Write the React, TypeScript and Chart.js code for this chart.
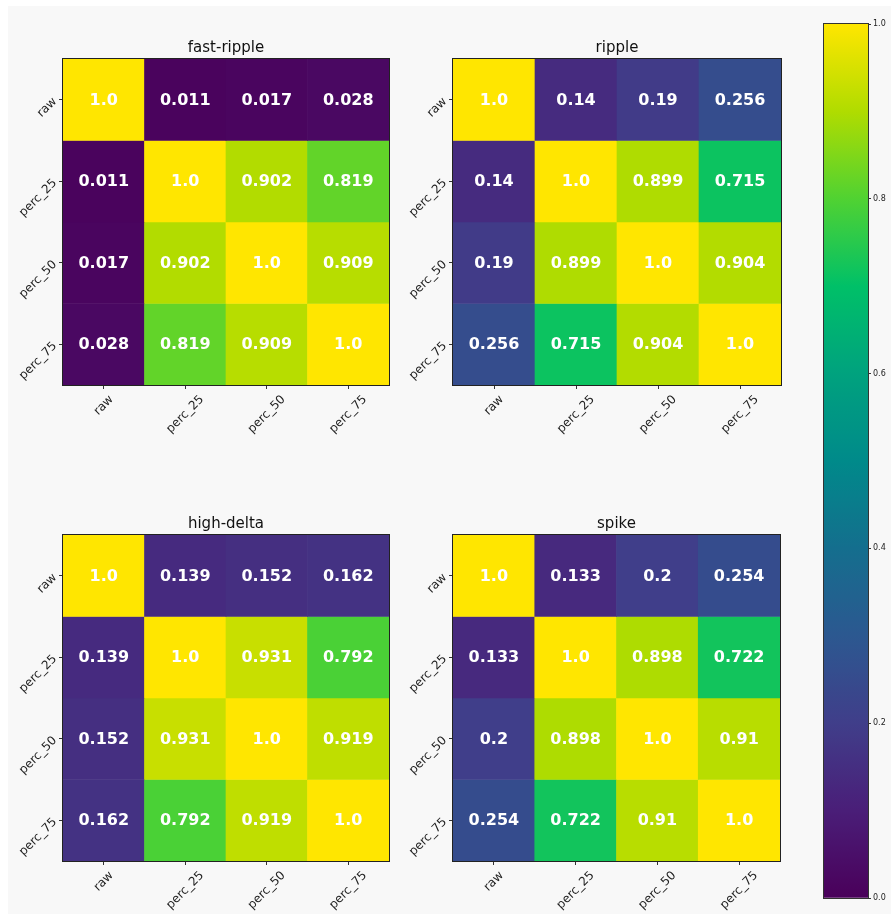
import React, { useEffect, useRef } from "react";
import { Chart, registerables } from "chart.js";

Chart.register(...registerables);

// Feature labels shared by both axes of every correlation matrix
const featureLabels = ["raw", "perc_25", "perc_50", "perc_75"];

// Correlation matrices, one per event type (rows top to bottom)
const fastRipple = [
  [1.0, 0.011, 0.017, 0.028],
  [0.011, 1.0, 0.902, 0.819],
  [0.017, 0.902, 1.0, 0.909],
  [0.028, 0.819, 0.909, 1.0],
];
const ripple = [
  [1.0, 0.14, 0.19, 0.256],
  [0.14, 1.0, 0.899, 0.715],
  [0.19, 0.899, 1.0, 0.904],
  [0.256, 0.715, 0.904, 1.0],
];
const highDelta = [
  [1.0, 0.139, 0.152, 0.162],
  [0.139, 1.0, 0.931, 0.792],
  [0.152, 0.931, 1.0, 0.919],
  [0.162, 0.792, 0.919, 1.0],
];
const spike = [
  [1.0, 0.133, 0.2, 0.254],
  [0.133, 1.0, 0.898, 0.722],
  [0.2, 0.898, 1.0, 0.91],
  [0.254, 0.722, 0.91, 1.0],
];

const colorbarTicks = [0, 0.2, 0.4, 0.6, 0.8, 1.0];

const FONT = "'DejaVu Sans', sans-serif";

// viridis-like colour ramp
const CMAP: [number, number[]][] = [
  [0.0, [74, 0, 90]],
  [0.1, [74, 30, 120]],
  [0.2, [64, 62, 138]],
  [0.3, [44, 88, 144]],
  [0.4, [20, 110, 142]],
  [0.5, [0, 138, 138]],
  [0.6, [0, 162, 126]],
  [0.7, [0, 192, 104]],
  [0.8, [80, 210, 50]],
  [0.9, [176, 220, 0]],
  [1.0, [255, 230, 0]],
];

function cmap(v: number): string {
  const t = Math.max(0, Math.min(1, v));
  for (let i = 0; i < CMAP.length - 1; i++) {
    const [a, ca] = CMAP[i];
    const [b, cb] = CMAP[i + 1];
    if (t >= a && t <= b) {
      const f = (t - a) / (b - a);
      const c = ca.map((x, k) => Math.round(x + (cb[k] - x) * f));
      return `rgb(${c[0]},${c[1]},${c[2]})`;
    }
  }
  const c = CMAP[CMAP.length - 1][1];
  return `rgb(${c[0]},${c[1]},${c[2]})`;
}

function fmt(v: number): string {
  return Number.isInteger(v) ? v.toFixed(1) : String(v);
}

// Plot-area boxes [left, top, right, bottom] in page pixels
const PAD_L = 63;
const PAD_T = 59;
const PAD_R = 60;
const PAD_B = 90;

type Box = [number, number, number, number];

function Heatmap({ title, matrix, box }: { title: string; matrix: number[][]; box: Box }) {
  const ref = useRef<HTMLCanvasElement | null>(null);
  const [L, T, R, B] = box;
  const width = R - L + PAD_L + PAD_R;
  const height = B - T + PAD_T + PAD_B;

  useEffect(() => {
    if (!ref.current) return;
    const decor = {
      id: "heatDecor",
      afterDatasetsDraw(chart: any) {
        const { ctx, chartArea: a } = chart;
        ctx.save();
        // cell values
        ctx.font = `bold 16px ${FONT}`;
        ctx.fillStyle = "#ffffff";
        ctx.textAlign = "center";
        ctx.textBaseline = "middle";
        chart.data.datasets.forEach((ds: any, i: number) => {
          const meta = chart.getDatasetMeta(i);
          meta.data.forEach((el: any, j: number) => {
            const p = el.getProps(["x", "y", "base"], true);
            ctx.fillText(fmt(matrix[i][j]), p.x, (p.y + p.base) / 2 + 1);
          });
        });
        // frame
        ctx.strokeStyle = "#222";
        ctx.lineWidth = 1;
        ctx.strokeRect(a.left - 0.5, a.top - 0.5, a.right - a.left + 1, a.bottom - a.top + 1);
        ctx.restore();
      },
      afterDraw(chart: any) {
        const { ctx, chartArea: a } = chart;
        const xs = chart.scales.x;
        const ys = chart.scales.y;
        ctx.save();
        ctx.fillStyle = "#222";
        ctx.font = `12px ${FONT}`;
        // x tick labels: rotated 45°, centred under each tick
        xs.ticks.forEach((_t: any, k: number) => {
          const px = xs.getPixelForTick(k);
          const txt = featureLabels[k];
          const w = ctx.measureText(txt).width;
          const h = 13;
          const bb = (w + h) / Math.SQRT2;
          ctx.save();
          ctx.translate(px, a.bottom + 8 + bb / 2);
          ctx.rotate(-Math.PI / 4);
          ctx.textAlign = "center";
          ctx.textBaseline = "middle";
          ctx.fillText(txt, 0, 0);
          ctx.restore();
        });
        // y tick labels: rotated 45°, anchored at their right end
        ys.ticks.forEach((t: any) => {
          const py = ys.getPixelForValue(t.value);
          const txt = featureLabels[Math.floor(t.value)];
          ctx.save();
          ctx.translate(a.left - 8, py);
          ctx.rotate(-Math.PI / 4);
          ctx.textAlign = "right";
          ctx.textBaseline = "middle";
          ctx.fillText(txt, 0, 0);
          ctx.restore();
        });
        // title
        ctx.fillStyle = "#111";
        ctx.font = `15px ${FONT}`;
        ctx.textAlign = "center";
        ctx.textBaseline = "alphabetic";
        ctx.fillText(title, (a.left + a.right) / 2, a.top - 7);
        ctx.restore();
      },
    };

    const chart = new Chart(ref.current, {
      type: "bar",
      data: {
        labels: featureLabels,
        datasets: matrix.map((row, i) => ({
          label: featureLabels[i],
          data: featureLabels.map(() => [i, i + 1]) as any,
          backgroundColor: row.map((v) => cmap(v)),
          borderWidth: 0,
          barPercentage: 1,
          categoryPercentage: 1,
          grouped: false,
        })),
      },
      options: {
        animation: false,
        responsive: false,
        devicePixelRatio: 1,
        layout: { padding: { left: PAD_L - 50, top: PAD_T, right: PAD_R, bottom: 0 } },
        plugins: { legend: { display: false }, tooltip: { enabled: false }, title: { display: false } },
        scales: {
          x: {
            type: "category",
            offset: true,
            ticks: { display: false },
            grid: { offset: false, drawOnChartArea: false, drawTicks: true, tickLength: 4, color: "#333" },
            border: { display: false },
            afterFit: (s: any) => {
              s.height = PAD_B;
            },
          },
          y: {
            type: "linear",
            min: 0,
            max: featureLabels.length,
            reverse: true,
            afterBuildTicks: (s: any) => {
              s.ticks = featureLabels.map((_l, i) => ({ value: i + 0.5 }));
            },
            ticks: { display: false },
            grid: { drawOnChartArea: false, drawTicks: true, tickLength: 4, color: "#333" },
            border: { display: false },
            afterFit: (s: any) => {
              s.width = 50;
            },
          },
        },
      },
      plugins: [decor],
    });
    return () => chart.destroy();
  }, [title, matrix]);

  return (
    <canvas
      ref={ref}
      width={width}
      height={height}
      style={{ position: "absolute", left: L - PAD_L, top: T - PAD_T, width, height }}
    />
  );
}

function Colorbar() {
  const ref = useRef<HTMLCanvasElement | null>(null);
  useEffect(() => {
    if (!ref.current) return;
    const frame = {
      id: "cbFrame",
      afterDatasetsDraw(chart: any) {
        const { ctx, chartArea: a } = chart;
        ctx.save();
        ctx.strokeStyle = "#333";
        ctx.lineWidth = 1;
        ctx.strokeRect(a.left - 0.5, a.top - 0.5, a.right - a.left + 1, a.bottom - a.top + 1);
        ctx.restore();
      },
    };
    const chart = new Chart(ref.current, {
      type: "bar",
      data: {
        labels: [""],
        datasets: [
          {
            data: [[0, 1]] as any,
            backgroundColor: (c: any) => {
              const ch = c.chart;
              const ys = ch.scales.y;
              if (!ch.chartArea || !ys) return cmap(0.5);
              const y0 = ys.getPixelForValue(0);
              const y1 = ys.getPixelForValue(1);
              const g = ch.ctx.createLinearGradient(0, y0, 0, y1);
              for (let i = 0; i <= 50; i++) g.addColorStop(i / 50, cmap(i / 50));
              return g;
            },
            borderWidth: 0,
            barPercentage: 1,
            categoryPercentage: 1,
          },
        ],
      },
      options: {
        animation: false,
        responsive: false,
        devicePixelRatio: 1,
        layout: { padding: { left: 24, top: 24, right: 0, bottom: 16 } },
        plugins: { legend: { display: false }, tooltip: { enabled: false } },
        scales: {
          x: { display: false },
          y: {
            position: "right",
            min: 0,
            max: 1,
            afterBuildTicks: (s: any) => {
              s.ticks = colorbarTicks.map((v) => ({ value: v }));
            },
            ticks: {
              callback: (v: any) => Number(v).toFixed(1),
              font: { size: 8, family: FONT },
              color: "#222",
              padding: 2,
            },
            grid: { drawOnChartArea: false, drawTicks: true, tickLength: 3, color: "#333" },
            border: { display: false },
            afterFit: (s: any) => {
              s.width = 23;
            },
          },
        },
      },
      plugins: [frame],
    });
    return () => chart.destroy();
  }, []);
  return (
    <canvas
      ref={ref}
      width={91}
      height={914}
      style={{ position: "absolute", left: 800, top: 0, width: 91, height: 914 }}
    />
  );
}

export default function App() {
  return (
    <div
      style={{
        position: "fixed",
        left: 0,
        top: 0,
        width: 891,
        height: 914,
        background: "#ffffff",
        overflow: "hidden",
      }}
    >
      <div
        style={{ position: "absolute", left: 8, top: 6, right: 0, bottom: 0, background: "#f8f8f8" }}
      />
      <Heatmap title="fast-ripple" matrix={fastRipple} box={[63, 59, 389, 385]} />
      <Heatmap title="ripple" matrix={ripple} box={[453, 59, 781, 385]} />
      <Heatmap title="high-delta" matrix={highDelta} box={[63, 535, 389, 861]} />
      <Heatmap title="spike" matrix={spike} box={[453, 535, 780, 861]} />
      <Colorbar />
    </div>
  );
}
